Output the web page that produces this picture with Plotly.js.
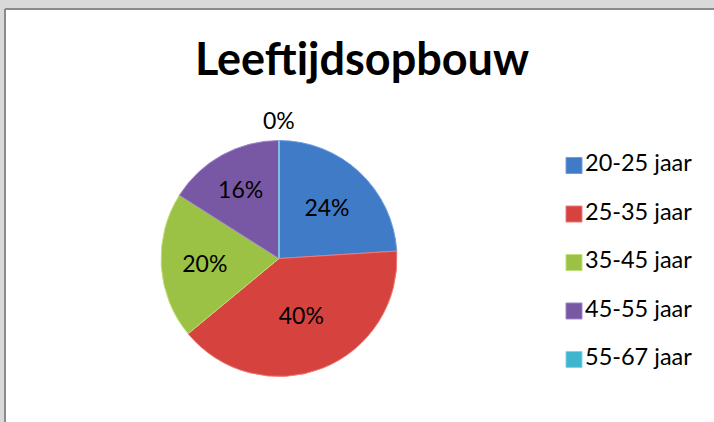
<!DOCTYPE html>
<html><head><meta charset="utf-8">
<script src="https://cdn.plot.ly/plotly-3.0.1.min.js"></script>
<style>html,body{margin:0;padding:0;background:#fff}#chart{width:714px;height:422px}</style>
</head><body><div id="chart"></div>
<script>
const categories = ["20-25 jaar", "25-35 jaar", "35-45 jaar", "45-55 jaar", "55-67 jaar"];
const values = [24, 40, 20, 16, 0];
const colors = ["#3f7bc6", "#d6433f", "#9bc244", "#7858a4", "#3fb5cf"];
const edgeColors = ["#6e9ee0", "#f07a76", "#bfe07a", "#a285c8", "#7ad6ea"];

const W = 714, H = 422;
const cx = 279, cy = 258.5, R = 118;
const total = values.reduce((a, b) => a + b, 0);
const pctText = v => Math.round(v / total * 100) + "%";

const pie = {
  type: "pie",
  labels: categories,
  values: values,
  sort: false,
  direction: "clockwise",
  rotation: 0,
  marker: {colors: colors, line: {color: edgeColors, width: 1}},
  texttemplate: "%{percent:.0%}",
  textposition: values.map(v => v === 0 ? "none" : "inside"),
  insidetextorientation: "horizontal",
  textfont: {family: "Lato, sans-serif", size: 23, color: "#000"},
  domain: {x: [(cx - R) / W, (cx + R) / W], y: [1 - (cy + R) / H, 1 - (cy - R) / H]},
  showlegend: false,
  automargin: false,
  hoverinfo: "label+percent"
};

// zero-valued slices: label drawn just above the pie top, as the source chart does
const zeroLabels = values.map((v, i) => ({v, i})).filter(o => o.v === 0).map(o => ({
  text: pctText(o.v), xref: "paper", yref: "paper",
  x: cx / W, y: 1 - (cy - R - 20) / H, xanchor: "center", yanchor: "middle",
  showarrow: false, font: {family: "Lato, sans-serif", size: 23, color: "#000"}
}));

const legendIdx = categories.map((c, i) => i);
const legend = {
  type: "scatter",
  mode: "markers+text",
  x: categories.map(() => 0),
  y: legendIdx,
  text: categories,
  textposition: "middle right",
  textfont: {family: "Lato, sans-serif", size: 23.5, color: "#000"},
  marker: {symbol: "square", size: 16, color: colors, line: {color: edgeColors, width: 1}},
  xaxis: "x", yaxis: "y",
  showlegend: false,
  hoverinfo: "skip",
  cliponaxis: false
};

const layout = {
  width: W, height: H,
  margin: {l: 0, r: 0, t: 0, b: 0},
  paper_bgcolor: "#ffffff",
  plot_bgcolor: "rgba(0,0,0,0)",
  showlegend: false,
  title: {text: "Leeftijdsopbouw", font: {family: "Lato, sans-serif", size: 45, color: "#000", weight: "bold"},
          x: 362 / W, xanchor: "center", y: 1 - 59 / H, yanchor: "middle"},
  xaxis: {domain: [547 / W, 601 / W], range: [-0.5, 0.5], visible: false, fixedrange: true},
  yaxis: {domain: [1 - 374 / H, 1 - 151 / H], range: [4.3, -0.3], visible: false, fixedrange: true},
  annotations: zeroLabels,
  shapes: [
    {type: "rect", xref: "paper", yref: "paper", x0: 0, x1: 1, y0: 1 - 9 / H, y1: 1, fillcolor: "#d9d9d9", line: {width: 0}, layer: "below"},
    {type: "rect", xref: "paper", yref: "paper", x0: 0, x1: 5 / W, y0: 0, y1: 1, fillcolor: "#d9d9d9", line: {width: 0}, layer: "below"},
    {type: "line", xref: "paper", yref: "paper", x0: 5 / W, x1: 1, y0: 1 - 9 / H, y1: 1 - 9 / H, line: {color: "#8a8a8a", width: 2}},
    {type: "line", xref: "paper", yref: "paper", x0: 5 / W, x1: 5 / W, y0: 0, y1: 1 - 9 / H, line: {color: "#8a8a8a", width: 2}}
  ]
};

Plotly.newPlot("chart", [pie, legend], layout, {displayModeBar: false, staticPlot: true});
</script></body></html>
